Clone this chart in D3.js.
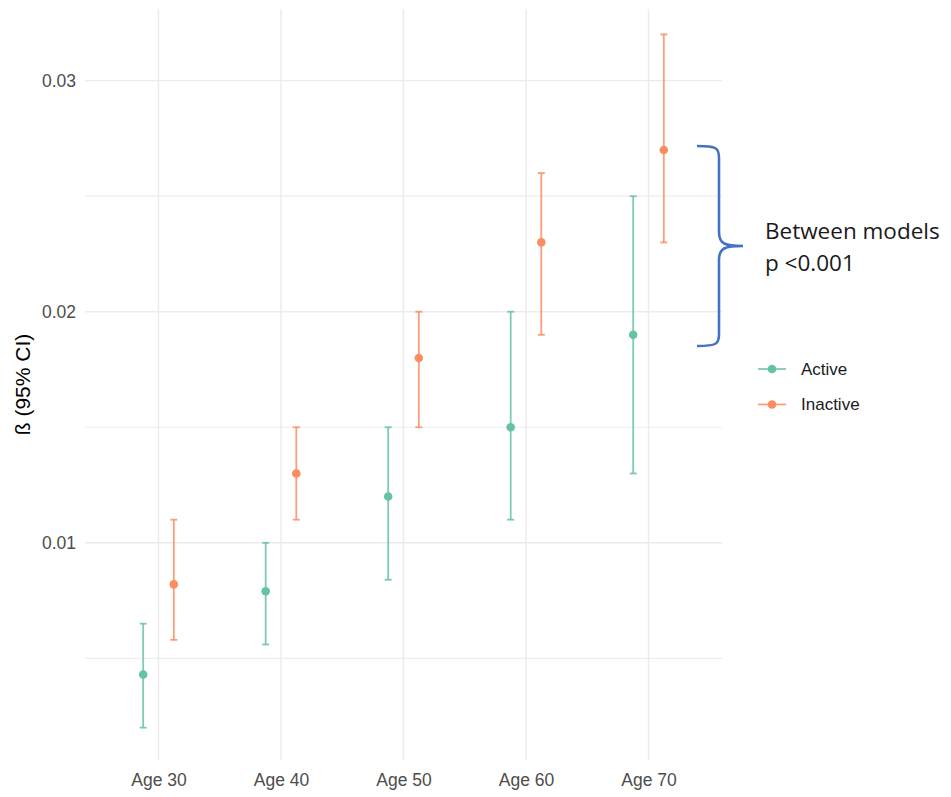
<!DOCTYPE html>
<html>
<head>
<meta charset="utf-8">
<script src="https://cdn.jsdelivr.net/npm/d3@7"></script>
<style>
  html, body { margin: 0; padding: 0; background: #ffffff; }
  svg { display: block; }
</style>
</head>
<body>
<script>
// Age groups on the x axis
const categories = ["Age 30", "Age 40", "Age 50", "Age 60", "Age 70"];

// Estimates with 95% confidence limits, per group
const activeEst  = [0.0043, 0.0079, 0.0120, 0.0150, 0.0190];
const activeLow  = [0.0020, 0.0056, 0.0084, 0.0110, 0.0130];
const activeHigh = [0.0065, 0.0100, 0.0150, 0.0200, 0.0250];

const inactiveEst  = [0.0082, 0.0130, 0.0180, 0.0230, 0.0270];
const inactiveLow  = [0.0058, 0.0110, 0.0150, 0.0190, 0.0230];
const inactiveHigh = [0.0110, 0.0150, 0.0200, 0.0260, 0.0320];

const seriesNames = ["Active", "Inactive"];
const majorTicks = [0.01, 0.02, 0.03];
const minorTicks = [0.005, 0.015, 0.025];
const tickLabels = ["0.01", "0.02", "0.03"];

const colors = { Active: "#66c2a5", Inactive: "#fc8d62" };

const W = 951, H = 797;
const panel = { left: 85, right: 722, top: 9, bottom: 760 };

const svg = d3.select("body").append("svg")
  .attr("width", W).attr("height", H);

const x = d3.scalePoint()
  .domain(categories)
  .range([panel.left, panel.right])
  .padding(0.6);

const y = d3.scaleLinear()
  .domain([0.0006, 0.0331])
  .range([panel.bottom, panel.top]);

const dodge = x.step() * 0.125;

// Grid lines
const grid = svg.append("g");
grid.selectAll("line.minor").data(minorTicks).join("line")
  .attr("x1", panel.left).attr("x2", panel.right)
  .attr("y1", d => y(d)).attr("y2", d => y(d))
  .attr("stroke", "#ededed").attr("stroke-width", 1.2);
grid.selectAll("line.major").data(majorTicks).join("line")
  .attr("x1", panel.left).attr("x2", panel.right)
  .attr("y1", d => y(d)).attr("y2", d => y(d))
  .attr("stroke", "#ebebeb").attr("stroke-width", 1.4);
grid.selectAll("line.vert").data(categories).join("line")
  .attr("x1", d => x(d)).attr("x2", d => x(d))
  .attr("y1", panel.top).attr("y2", panel.bottom)
  .attr("stroke", "#ebebeb").attr("stroke-width", 1.4);

// Y axis tick labels
const yAxis = d3.axisLeft(y).tickValues(majorTicks)
  .tickFormat((d, i) => tickLabels[i]).tickSize(0).tickPadding(9);
const yG = svg.append("g").attr("transform", `translate(${panel.left},0)`).call(yAxis);
yG.select(".domain").remove();
yG.selectAll("text")
  .attr("fill", "#4d4d4d")
  .style("font-family", "Liberation Sans, Arial, sans-serif")
  .style("font-size", "17.5px");

// X axis tick labels
const xAxis = d3.axisBottom(x).tickSize(0).tickPadding(14);
const xG = svg.append("g").attr("transform", `translate(0,${panel.bottom})`).call(xAxis);
xG.select(".domain").remove();
xG.selectAll("text")
  .attr("fill", "#4d4d4d")
  .style("font-family", "Liberation Sans, Arial, sans-serif")
  .style("font-size", "17.5px");

// Y axis title
svg.append("text")
  .attr("transform", `translate(30,${(panel.top + panel.bottom) / 2}) rotate(-90)`)
  .attr("text-anchor", "middle")
  .attr("fill", "#000")
  .style("font-family", "Liberation Sans, Arial, sans-serif")
  .style("font-size", "21px")
  .text("ß (95% CI)");

// Long-format rows for both series
const rows = [];
categories.forEach((c, i) => {
  rows.push({ cat: c, series: "Active", est: activeEst[i], lo: activeLow[i], hi: activeHigh[i], off: -dodge });
  rows.push({ cat: c, series: "Inactive", est: inactiveEst[i], lo: inactiveLow[i], hi: inactiveHigh[i], off: dodge });
});

const marks = svg.append("g");
const capHalf = 3.5;

const eb = marks.selectAll("g.eb").data(rows).join("g")
  .attr("stroke", d => colors[d.series])
  .attr("stroke-width", 1.8)
  .attr("stroke-opacity", 0.85);
eb.append("line")
  .attr("x1", d => x(d.cat) + d.off).attr("x2", d => x(d.cat) + d.off)
  .attr("y1", d => y(d.lo)).attr("y2", d => y(d.hi));
eb.append("line")
  .attr("x1", d => x(d.cat) + d.off - capHalf).attr("x2", d => x(d.cat) + d.off + capHalf)
  .attr("y1", d => y(d.lo)).attr("y2", d => y(d.lo));
eb.append("line")
  .attr("x1", d => x(d.cat) + d.off - capHalf).attr("x2", d => x(d.cat) + d.off + capHalf)
  .attr("y1", d => y(d.hi)).attr("y2", d => y(d.hi));

marks.selectAll("circle").data(rows).join("circle")
  .attr("cx", d => x(d.cat) + d.off)
  .attr("cy", d => y(d.est))
  .attr("r", 4.3)
  .attr("fill", d => colors[d.series]);

// Legend
const legend = svg.append("g").attr("transform", "translate(758,369)");
const li = legend.selectAll("g").data(seriesNames).join("g")
  .attr("transform", (d, i) => `translate(0,${i * 35.5})`);
li.append("line").attr("x1", 0).attr("x2", 28).attr("y1", 0).attr("y2", 0)
  .attr("stroke", d => colors[d]).attr("stroke-width", 1.8).attr("stroke-opacity", 0.85);
li.append("circle").attr("cx", 14).attr("cy", 0).attr("r", 4.3)
  .attr("fill", d => colors[d]);
li.append("text").attr("x", 43).attr("y", 0).attr("dy", "0.35em")
  .attr("fill", "#1a1a1a")
  .style("font-family", "Liberation Sans, Arial, sans-serif")
  .style("font-size", "17px")
  .text(d => d);

// Curly bracket comparing the two models
const br = { x0: 697, x1: 719, tip: 743, top: 146, mid: 246, bot: 346 };
svg.append("path")
  .attr("d", `M${br.x0},${br.top} C${br.x1 - 2},${br.top} ${br.x1},${br.top + 2} ${br.x1},${br.top + 12}
              L${br.x1},${br.mid - 14} C${br.x1},${br.mid - 2} ${br.x1 + 6},${br.mid} ${br.tip},${br.mid}
              C${br.x1 + 6},${br.mid} ${br.x1},${br.mid + 2} ${br.x1},${br.mid + 14}
              L${br.x1},${br.bot - 12} C${br.x1},${br.bot - 2} ${br.x1 - 2},${br.bot} ${br.x0},${br.bot}`)
  .attr("fill", "none")
  .attr("stroke", "#4472c4")
  .attr("stroke-width", 2.6);

const note = svg.append("text")
  .attr("fill", "#1a1a1a")
  .style("font-family", "Open Sans, sans-serif")
  .style("font-size", "22.5px");
note.append("tspan").attr("x", 765).attr("y", 239).text("Between models");
note.append("tspan").attr("x", 765).attr("y", 271).text("p <0.001");
</script>
</body>
</html>
